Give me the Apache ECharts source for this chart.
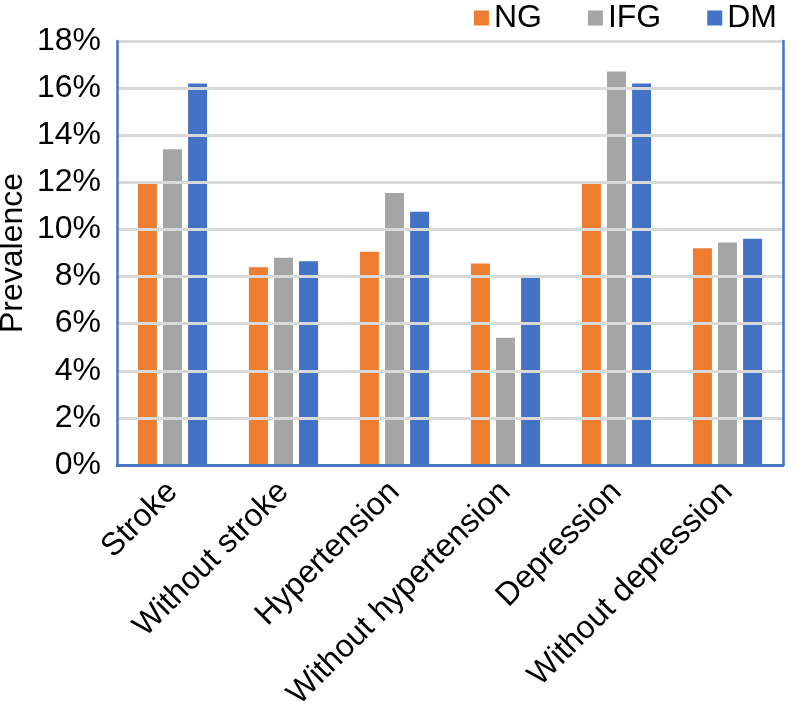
<!DOCTYPE html>
<html><head><meta charset="utf-8">
<script src="https://cdn.jsdelivr.net/npm/echarts@6/dist/echarts.min.js"></script>
<style>html,body{margin:0;padding:0;background:#fff}#c{width:795px;height:715px}</style>
</head><body><div id="c"></div>
<script>
const categories = ["Stroke","Without stroke","Hypertension","Without hypertension","Depression","Without depression"];
const ngValues  = [11.95, 8.4, 9.05, 8.55, 12.05, 9.2];
const ifgValues = [13.4, 8.8, 11.55, 5.4, 16.7, 9.45];
const dmValues  = [16.2, 8.65, 10.75, 8.0, 16.2, 9.6];
const seriesNames = ["NG","IFG","DM"];
const colors = ["#ED7D31","#A5A5A5","#4472C4"];
const yTicks = {min:0, max:18, interval:2};

const font = "Liberation Sans, Arial, sans-serif";
const frame = {show:true, lineStyle:{color:'#4472C4', width:2.5}};
const chart = echarts.init(document.getElementById('c'));
chart.setOption({
  animation:false,
  textStyle:{fontFamily:font},
  legend:{
    right:18, top:2, padding:0, itemWidth:15, itemHeight:15, itemGap:46,
    icon:'rect',
    textStyle:{fontSize:32, color:'#000', fontFamily:font},
    data:seriesNames
  },
  grid:{left:117, top:41, right:12, bottom:250, containLabel:false, outerBoundsMode:'none'},
  xAxis:[{
    type:'category', data:categories, position:'bottom',
    axisLine:frame, axisTick:{show:false}, z:5,
    axisLabel:{rotate:45, fontSize:32, color:'#000', fontFamily:font, margin:22, interval:0}
  },{
    type:'category', data:categories, position:'top',
    axisLine:frame, axisTick:{show:false}, axisLabel:{show:false}, z:5
  }],
  yAxis:[{
    type:'value', min:yTicks.min, max:yTicks.max, interval:yTicks.interval, position:'left',
    name:'Prevalence', nameLocation:'middle', nameGap:88, nameRotate:90, nameMoveOverlap:false,
    nameTextStyle:{fontSize:32, color:'#000', fontFamily:font},
    axisLine:frame, axisTick:{show:false}, z:5,
    axisLabel:{formatter:'{value}%', fontSize:32, color:'#000', fontFamily:font, margin:16},
    splitLine:{lineStyle:{color:'#D9D9D9', width:3}}
  },{
    type:'value', min:yTicks.min, max:yTicks.max, interval:yTicks.interval, position:'right',
    axisLine:frame, axisTick:{show:false}, axisLabel:{show:false}, splitLine:{show:false}, z:5
  }],
  series:[
    {name:seriesNames[0], type:'bar', data:ngValues, itemStyle:{color:colors[0]}, barWidth:19, barGap:'32%'},
    {name:seriesNames[1], type:'bar', data:ifgValues, itemStyle:{color:colors[1]}, barWidth:19, barGap:'32%'},
    {name:seriesNames[2], type:'bar', data:dmValues, itemStyle:{color:colors[2]}, barWidth:19, barGap:'32%'}
  ]
});
</script></body></html>
